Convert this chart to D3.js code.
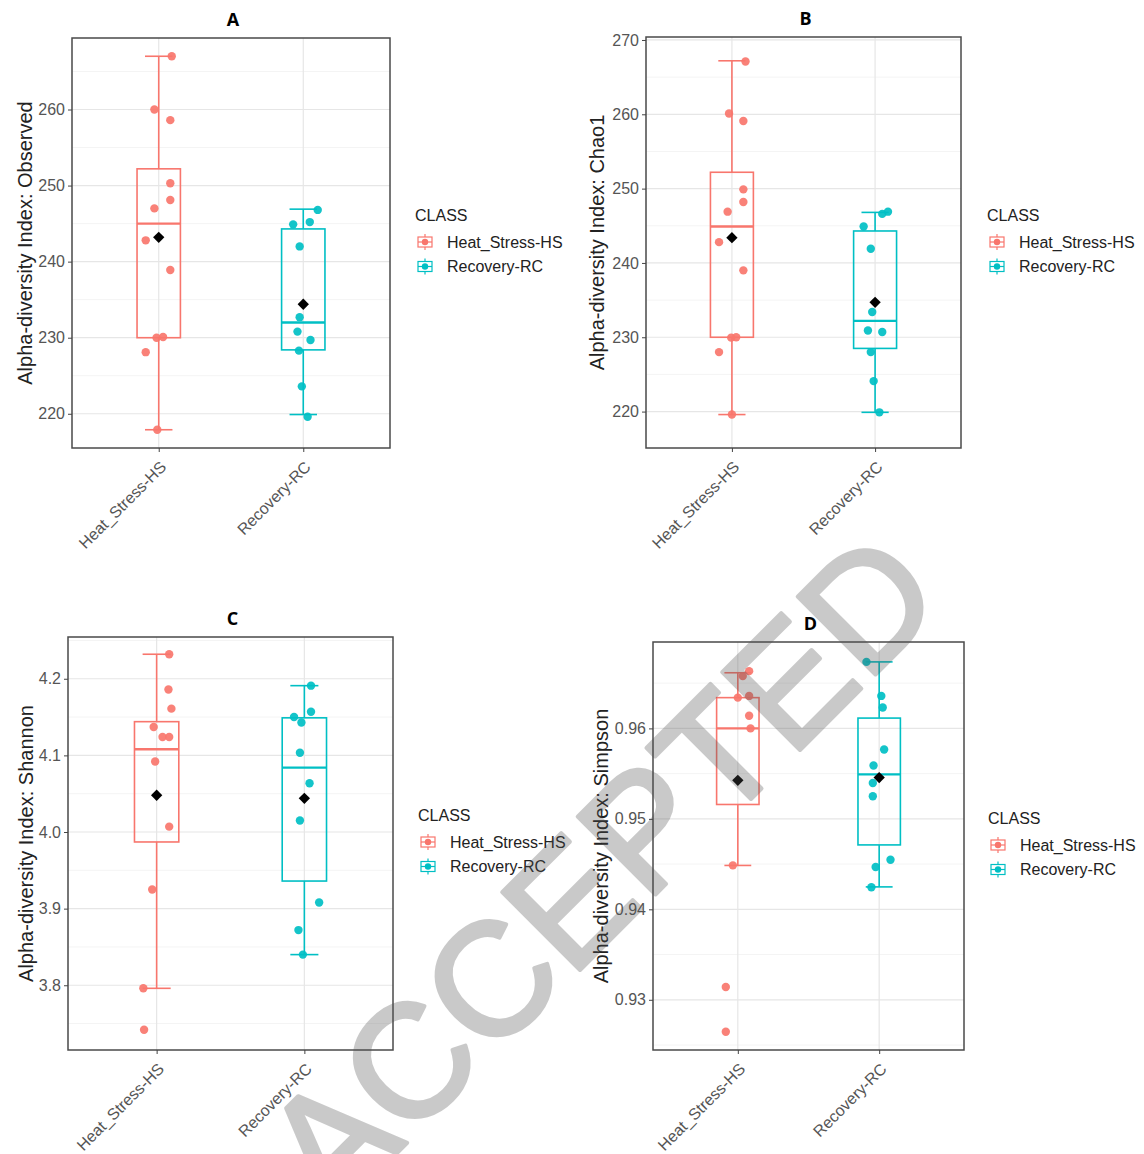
<!DOCTYPE html>
<html><head><meta charset="utf-8">
<script src="https://cdn.jsdelivr.net/npm/d3@7"></script>
<style>body{margin:0;background:#fff}svg{display:block}</style>
</head><body>
<script>
// ---------------- DATA ----------------
const categories = ["Heat_Stress-HS", "Recovery-RC"];
const legendTitle = "CLASS";
const panelTitles = ["A", "B", "C", "D"];
const yTitles = ["Alpha-diversity Index: Observed", "Alpha-diversity Index: Chao1",
                 "Alpha-diversity Index: Shannon", "Alpha-diversity Index: Simpson"];

// tick values per panel
const ticksA = [220, 230, 240, 250, 260];
const ticksB = [220, 230, 240, 250, 260, 270];
const ticksC = [3.8, 3.9, 4.0, 4.1, 4.2];
const ticksD = [0.93, 0.94, 0.95, 0.96];

// Panel A: Observed
const obsHS = [267.0, 260.0, 258.6, 250.3, 248.1, 247.0, 242.8, 238.9, 230.0, 230.1, 228.1, 217.9];
const obsHSJitter = [0.09, -0.03, 0.08, 0.08, 0.08, -0.03, -0.09, 0.08, -0.015, 0.03, -0.09, -0.01];
const obsRC = [246.8, 244.9, 245.2, 242.0, 232.7, 230.8, 229.7, 228.3, 223.6, 219.6];
const obsRCJitter = [0.10, -0.07, 0.045, -0.025, -0.025, -0.04, 0.05, -0.03, -0.01, 0.03];
const obsHSBox = [217.9, 230.0, 245.0, 252.2, 267.0];   // lower whisker, Q1, median, Q3, upper whisker
const obsRCBox = [219.9, 228.4, 232.0, 244.3, 246.9];
const obsMeans = [243.2, 234.4];

// Panel B: Chao1
const chaoHS = [267.1, 260.1, 259.1, 249.9, 248.2, 246.9, 242.8, 239.0, 229.95, 230.0, 228.0, 219.6];
const chaoHSJitter = [0.095, -0.02, 0.08, 0.08, 0.08, -0.03, -0.09, 0.08, -0.005, 0.03, -0.09, 0.0];
const chaoRC = [246.9, 246.6, 244.9, 241.9, 233.4, 230.9, 230.7, 228.0, 224.1, 219.9];
const chaoRCJitter = [0.09, 0.05, -0.08, -0.03, -0.02, -0.05, 0.05, -0.03, -0.01, 0.03];
const chaoHSBox = [219.6, 230.0, 244.9, 252.2, 267.2];
const chaoRCBox = [219.9, 228.5, 232.2, 244.3, 246.8];
const chaoMeans = [243.4, 234.7];

// Panel C: Shannon
const shanHS = [4.232, 4.186, 4.161, 4.137, 4.124, 4.124, 4.092, 4.007, 3.925, 3.796, 3.742];
const shanHSJitter = [0.085, 0.08, 0.10, -0.02, 0.04, 0.085, -0.01, 0.085, -0.03, -0.09, -0.085];
const shanRC = [4.191, 4.150, 4.143, 4.157, 4.1035, 4.0636, 4.015, 3.908, 3.872, 3.840];
const shanRCJitter = [0.045, -0.07, -0.02, 0.045, -0.03, 0.035, -0.03, 0.10, -0.04, -0.01];
const shanHSBox = [3.796, 3.987, 4.108, 4.144, 4.232];
const shanRCBox = [3.840, 3.936, 4.084, 4.149, 4.191];
const shanMeans = [4.048, 4.044];

// Panel D: Simpson
const simpHS = [0.96633, 0.96578, 0.9634, 0.96359, 0.96139, 0.96, 0.94486, 0.93141, 0.92647];
const simpHSJitter = [0.08, 0.035, 0.0, 0.08, 0.08, 0.09, -0.035, -0.085, -0.085];
const simpRC = [0.96735, 0.96359, 0.96231, 0.95766, 0.9559, 0.95396, 0.9525, 0.94548, 0.94468, 0.94244];
const simpRCJitter = [-0.09, 0.015, 0.025, 0.035, -0.04, -0.045, -0.045, 0.08, -0.025, -0.055];
const simpHSBox = [0.94485, 0.95159, 0.960, 0.9634, 0.96615];
const simpRCBox = [0.94248, 0.94712, 0.95492, 0.96114, 0.96735];
const simpMeans = [0.95426, 0.95456];

const colors = ["#F8766D", "#00BFC4"];
const watermark = "ACCEPTED";

// ---------------- LAYOUT ----------------
const W = 1144, H = 1154;
const svg = d3.select("body").append("svg").attr("width", W).attr("height", H);
svg.append("rect").attr("width", W).attr("height", H).attr("fill", "#fff");

const FONT = "'Liberation Sans', Arial, sans-serif";

const panels = [
  {title: panelTitles[0], ytitle: yTitles[0], x0: 72, x1: 390, y0: 38, y1: 448, dom: [215.5, 269.4], ticks: ticksA, fmt: d3.format("d"),
   groups: [[obsHS, obsHSJitter, obsHSBox], [obsRC, obsRCJitter, obsRCBox]], means: obsMeans, ytx: 25, leg: [415, 215]},
  {title: panelTitles[1], ytitle: yTitles[1], x0: 646, x1: 961, y0: 37, y1: 448, dom: [215.1, 270.4], ticks: ticksB, fmt: d3.format("d"),
   groups: [[chaoHS, chaoHSJitter, chaoHSBox], [chaoRC, chaoRCJitter, chaoRCBox]], means: chaoMeans, ytx: 597, leg: [987, 215]},
  {title: panelTitles[2], ytitle: yTitles[2], x0: 68, x1: 393, y0: 637, y1: 1050, dom: [3.7155, 4.2545], ticks: ticksC, fmt: d3.format(".1f"),
   groups: [[shanHS, shanHSJitter, shanHSBox], [shanRC, shanRCJitter, shanRCBox]], means: shanMeans, ytx: 26, leg: [418, 815]},
  {title: panelTitles[3], ytitle: yTitles[3], x0: 653, x1: 964, y0: 642, y1: 1050, dom: [0.92445, 0.96955], ticks: ticksD, fmt: d3.format(".2f"),
   groups: [[simpHS, simpHSJitter, simpHSBox], [simpRC, simpRCJitter, simpRCBox]], means: simpMeans, ytx: 601, leg: [988, 818]},
];

function drawPanel(p) {
  const g = svg.append("g");
  const x = d3.scalePoint().domain(categories).range([p.x0, p.x1]).padding(0.6);
  const unit = x.step();
  const y = d3.scaleLinear().domain(p.dom).range([p.y1, p.y0]);

  // minor grid
  const step = p.ticks[1] - p.ticks[0];
  const minor = [];
  for (let i = -1; i < p.ticks.length; i++) {
    const v = (i < 0 ? p.ticks[0] - step / 2 : p.ticks[i] + step / 2);
    if (v > p.dom[0] && v < p.dom[1]) minor.push(v);
  }
  g.selectAll(".minor").data(minor).join("line")
    .attr("x1", p.x0).attr("x2", p.x1).attr("y1", d => y(d)).attr("y2", d => y(d))
    .attr("stroke", "#F4F4F4").attr("stroke-width", 1);
  g.selectAll(".major").data(p.ticks).join("line")
    .attr("x1", p.x0).attr("x2", p.x1).attr("y1", d => y(d)).attr("y2", d => y(d))
    .attr("stroke", "#E6E6E6").attr("stroke-width", 1.2);
  g.selectAll(".vmajor").data(categories).join("line")
    .attr("x1", d => x(d)).attr("x2", d => x(d)).attr("y1", p.y0).attr("y2", p.y1)
    .attr("stroke", "#E6E6E6").attr("stroke-width", 1.2);

  // boxes
  p.groups.forEach((grp, gi) => {
    const [vals, jit, box] = grp;
    const cx = x(categories[gi]);
    const col = colors[gi];
    const bw = 0.3 * unit, cw = 0.19 * unit;
    const bg = g.append("g").attr("stroke", col).attr("stroke-width", 1.6).attr("fill", "none");
    bg.append("line").attr("x1", cx).attr("x2", cx).attr("y1", y(box[0])).attr("y2", y(box[1]));
    bg.append("line").attr("x1", cx).attr("x2", cx).attr("y1", y(box[3])).attr("y2", y(box[4]));
    bg.append("line").attr("x1", cx - cw / 2).attr("x2", cx + cw / 2).attr("y1", y(box[0])).attr("y2", y(box[0]));
    bg.append("line").attr("x1", cx - cw / 2).attr("x2", cx + cw / 2).attr("y1", y(box[4])).attr("y2", y(box[4]));
    bg.append("rect").attr("x", cx - bw / 2).attr("width", bw)
      .attr("y", y(box[3])).attr("height", y(box[1]) - y(box[3]));
    bg.append("line").attr("x1", cx - bw / 2).attr("x2", cx + bw / 2)
      .attr("y1", y(box[2])).attr("y2", y(box[2])).attr("stroke-width", 2.4);
    g.append("g").selectAll("circle").data(vals).join("circle")
      .attr("cx", (d, i) => cx + jit[i] * unit).attr("cy", d => y(d)).attr("r", 4.2)
      .attr("fill", col).attr("fill-opacity", 0.92);
    const m = p.means[gi];
    g.append("path").attr("d", d3.symbol(d3.symbolSquare, 64)())
      .attr("transform", `translate(${cx},${y(m)}) rotate(45)`).attr("fill", "#000");
  });

  // border
  g.append("rect").attr("x", p.x0).attr("y", p.y0).attr("width", p.x1 - p.x0).attr("height", p.y1 - p.y0)
    .attr("fill", "none").attr("stroke", "#4a4a4a").attr("stroke-width", 1.5);

  // y axis
  const ya = g.append("g").attr("transform", `translate(${p.x0},0)`)
    .call(d3.axisLeft(y).tickValues(p.ticks).tickFormat(p.fmt).tickSize(4).tickPadding(3));
  ya.select(".domain").remove();
  ya.selectAll("line").attr("stroke", "#444");
  ya.selectAll("text").attr("fill", "#555").attr("font-size", 16).attr("font-family", FONT);

  // x axis
  const xa = g.append("g").attr("transform", `translate(0,${p.y1})`)
    .call(d3.axisBottom(x).tickSize(4));
  xa.select(".domain").remove();
  xa.selectAll("line").attr("stroke", "#444");
  xa.selectAll("text").attr("fill", "#555").attr("font-size", 16).attr("font-family", FONT)
    .attr("text-anchor", "end").attr("y", 0).attr("dy", 0)
    .attr("transform", "translate(8,20) rotate(-45)");

  // y title
  g.append("text").attr("transform", `translate(${p.ytx},${(p.y0 + p.y1) / 2}) rotate(-90)`)
    .attr("text-anchor", "middle").attr("dominant-baseline", "central")
    .attr("font-size", 20).attr("font-family", FONT).attr("fill", "#222").text(p.ytitle);

  // title
  g.append("text").attr("x", (p.x0 + p.x1) / 2 + 2).attr("y", p.y0 - 12)
    .attr("text-anchor", "middle").attr("font-size", 18).attr("font-weight", 700)
    .attr("font-family", "'Open Sans', sans-serif").attr("fill", "#000").text(p.title);

  // legend
  const [lx, ly] = p.leg;
  const lg = g.append("g");
  lg.append("text").attr("x", lx).attr("y", ly).attr("dominant-baseline", "central")
    .attr("font-size", 16).attr("font-family", FONT).attr("fill", "#222").text(legendTitle);
  categories.forEach((c, i) => {
    const ky = ly + 27 + i * 24.5, kx = lx + 2;
    const k = lg.append("g").attr("stroke", colors[i]).attr("stroke-width", 1.2).attr("fill", "none");
    k.append("line").attr("x1", kx + 8).attr("x2", kx + 8).attr("y1", ky - 8).attr("y2", ky + 8);
    k.append("rect").attr("x", kx + 1).attr("y", ky - 5).attr("width", 14).attr("height", 10).attr("fill", "#fff");
    k.append("line").attr("x1", kx + 1).attr("x2", kx + 15).attr("y1", ky).attr("y2", ky);
    k.append("circle").attr("cx", kx + 8).attr("cy", ky).attr("r", 3.2).attr("fill", colors[i]).attr("stroke", "none");
    lg.append("text").attr("x", kx + 30).attr("y", ky).attr("dominant-baseline", "central")
      .attr("font-size", 16).attr("font-family", FONT).attr("fill", "#222").text(c);
  });
}

panels.forEach(drawPanel);

// watermark
svg.append("g").attr("opacity", 0.3)
  .append("text").attr("transform", "translate(640,910) rotate(-45)")
  .attr("text-anchor", "middle").attr("font-size", 160).attr("font-family", FONT)
  .attr("fill", "#505050").attr("stroke", "#505050").attr("stroke-width", 4)
  .attr("stroke-linejoin", "round").text(watermark);
</script>
</body></html>
